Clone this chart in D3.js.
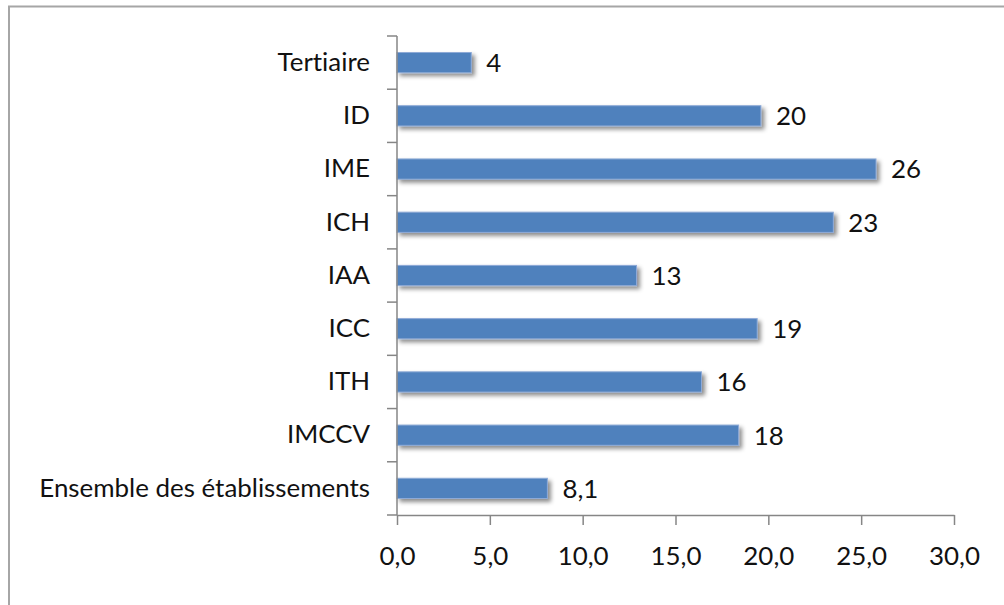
<!DOCTYPE html>
<html>
<head>
<meta charset="utf-8">
<script src="https://cdn.jsdelivr.net/npm/d3@7"></script>
<style>
  html, body { margin: 0; padding: 0; background: #fff; }
  svg { display: block; }
  text { font-family: Lato, "Noto Sans", sans-serif; fill: #111; font-variant-ligatures: none; font-feature-settings: "liga" 0; }
</style>
</head>
<body>
<svg id="chart" width="1004" height="605"></svg>
<script>
// Data (top to bottom)
const categories = ["Tertiaire", "ID", "IME", "ICH", "IAA", "ICC", "ITH", "IMCCV", "Ensemble des établissements"];
const values = [4.0, 19.6, 25.8, 23.5, 12.9, 19.4, 16.4, 18.4, 8.1];
const valueLabels = ["4", "20", "26", "23", "13", "19", "16", "18", "8,1"];
const xTicks = [0, 5, 10, 15, 20, 25, 30];

const svg = d3.select("#chart");
const W = 1004, H = 605;
const m = { left: 397, right: 1004 - 954, top: 36, bottom: 605 - 515 };

// Frame
svg.append("rect")
  .attr("x", 9).attr("y", 6.5)
  .attr("width", W + 20).attr("height", H + 20)
  .attr("fill", "#fff").attr("stroke", "#a6a6a6").attr("stroke-width", 2);

const defs = svg.append("defs");
const f = defs.append("filter").attr("id", "shadow")
  .attr("x", "-10%").attr("y", "-50%").attr("width", "130%").attr("height", "250%");
f.append("feDropShadow").attr("dx", 3).attr("dy", 3).attr("stdDeviation", 2)
  .attr("flood-color", "#000").attr("flood-opacity", 0.45);

const x = d3.scaleLinear().domain([0, 30]).range([m.left, W - m.right]);
const p = 0.62;
const y = d3.scaleBand().domain(categories).range([m.top, H - m.bottom])
  .paddingInner(p).paddingOuter(p / 2);

// Font sizing to match reference width of longest label
const probe = svg.append("text").attr("font-size", 20).text(categories[categories.length - 1]);
const len = probe.node().getComputedTextLength();
probe.remove();
const fs = 20 * 331 / len;

// Bars
svg.append("g").selectAll("rect").data(values).join("rect")
  .attr("x", x(0))
  .attr("y", (d, i) => y(categories[i]))
  .attr("width", d => x(d) - x(0))
  .attr("height", y.bandwidth())
  .attr("fill", "#4f81bd")
  .attr("stroke", "#8eaad6").attr("stroke-width", 1)
  .attr("filter", "url(#shadow)");

// Value labels
svg.append("g").selectAll("text").data(values).join("text")
  .attr("x", d => x(d) + 15)
  .attr("y", (d, i) => y(categories[i]) + y.bandwidth() / 2)
  .attr("dy", "0.36em")
  .attr("font-size", fs)
  .text((d, i) => valueLabels[i]);

// Y axis
const axisColor = "#868686";
const yAxis = svg.append("g").attr("transform", `translate(${x(0)},0)`)
  .call(d3.axisLeft(y).tickSize(0).tickPadding(27));
yAxis.select(".domain").remove();
yAxis.selectAll("text").attr("font-size", fs).attr("font-family", "Lato, 'Noto Sans', sans-serif").attr("fill", "#111");
const step = y.step();
const boundaries = d3.range(categories.length + 1).map(i => m.top + i * step);
svg.append("g").selectAll("line").data(boundaries).join("line")
  .attr("x1", x(0) - 10).attr("x2", x(0))
  .attr("y1", d => d).attr("y2", d => d)
  .attr("stroke", axisColor).attr("stroke-width", 1.5);
svg.append("line")
  .attr("x1", x(0)).attr("x2", x(0))
  .attr("y1", m.top).attr("y2", H - m.bottom)
  .attr("stroke", axisColor).attr("stroke-width", 1.5);

// X axis
const fmt = d => d3.format(".1f")(d).replace(".", ",");
const xAxis = svg.append("g").attr("transform", `translate(0,${H - m.bottom})`)
  .call(d3.axisBottom(x).tickValues(xTicks).tickFormat(fmt).tickSize(10).tickSizeOuter(0).tickPadding(22));
xAxis.select(".domain").attr("stroke", axisColor).attr("stroke-width", 1.5);
xAxis.selectAll(".tick line").attr("stroke", axisColor).attr("stroke-width", 1.5);
xAxis.selectAll("text").attr("font-size", fs).attr("font-family", "Lato, 'Noto Sans', sans-serif").attr("fill", "#111");
</script>
</body>
</html>
